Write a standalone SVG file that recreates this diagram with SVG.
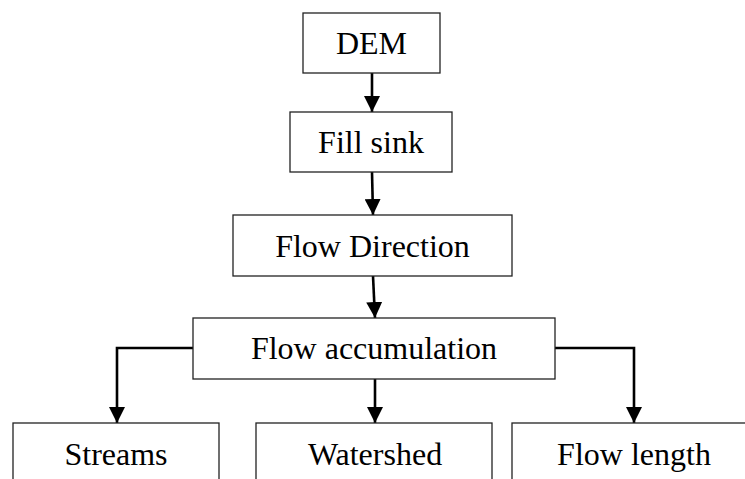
<svg xmlns="http://www.w3.org/2000/svg" width="745" height="479" viewBox="0 0 745 479">
<defs>
<style>
.box{fill:#fff;stroke:#222;stroke-width:1.3}
.lbl{font-family:"Liberation Serif","Times New Roman",serif;font-size:32px;fill:#000;text-anchor:middle}
.con{fill:none;stroke:#000;stroke-width:2.6}
</style>
<marker id="ah" markerUnits="userSpaceOnUse" markerWidth="16" markerHeight="16" viewBox="0 0 16 16" refX="16" refY="8" orient="auto">
<path d="M0,0 L16,8 L0,16 Z" fill="#000"/>
</marker>
</defs>
<rect width="745" height="479" fill="#fff"/>
<g id="connectors">
<line class="con" x1="372" y1="73" x2="372" y2="112" marker-end="url(#ah)"/>
<line class="con" x1="372" y1="172" x2="373" y2="215" marker-end="url(#ah)"/>
<line class="con" x1="373" y1="276" x2="375" y2="318" marker-end="url(#ah)"/>
<polyline class="con" points="193,348 117,348 117,423" marker-end="url(#ah)"/>
<line class="con" x1="375" y1="379" x2="375" y2="423" marker-end="url(#ah)"/>
<polyline class="con" points="555,348 634,348 634,423" marker-end="url(#ah)"/>
</g>
<g id="dem"><rect class="box" x="303" y="13" width="137" height="60"/><text class="lbl" x="371.5" y="54">DEM</text></g>
<g id="fillsink"><rect class="box" x="290" y="112" width="162" height="60"/><text class="lbl" x="371" y="153">Fill sink</text></g>
<g id="flowdir"><rect class="box" x="233" y="215" width="279" height="61"/><text class="lbl" x="372.5" y="257">Flow Direction</text></g>
<g id="flowacc"><rect class="box" x="193" y="318" width="362" height="61"/><text class="lbl" x="374" y="359">Flow accumulation</text></g>
<g id="streams"><rect class="box" x="13" y="423" width="206" height="70"/><text class="lbl" x="116" y="465">Streams</text></g>
<g id="watershed"><rect class="box" x="256" y="423" width="236" height="70"/><text class="lbl" x="375" y="465">Watershed</text></g>
<g id="flowlength"><rect class="box" x="512" y="423" width="250" height="70"/><text class="lbl" x="634" y="465">Flow length</text></g>
</svg>
